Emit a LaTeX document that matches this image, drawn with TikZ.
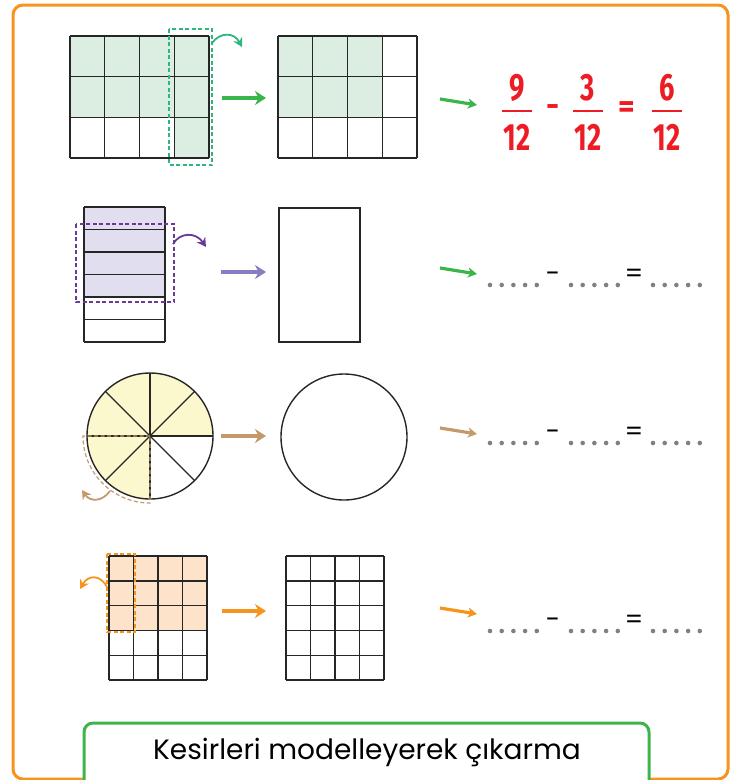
\documentclass[tikz,border=0pt]{standalone}
\usepackage{fontspec}
\setmainfont{Poppins}
\newfontfamily\fracfont{Fira Sans}
\usetikzlibrary{arrows.meta,positioning,calc}
\definecolor{frameorange}{HTML}{F7941D}
\definecolor{titlegreen}{HTML}{3DB54A}
\definecolor{gridgreen}{HTML}{DCEDE1}
\definecolor{arrowgreen}{HTML}{39B54A}
\definecolor{tealgreen}{HTML}{2DB77A}
\definecolor{fracred}{HTML}{ED1C24}
\definecolor{gridpurple}{HTML}{E1DEEF}
\definecolor{darkpurple}{HTML}{6B3A96}
\definecolor{lightpurple}{HTML}{8C7BC2}
\definecolor{gridyellow}{HTML}{FBF8CE}
\definecolor{tanbrown}{HTML}{C49A6C}
\definecolor{gridorange}{HTML}{FDE3CA}
\definecolor{dotgray}{HTML}{808083}
\tikzset{
  cellline/.style={draw=black!85, line width=1.4},
  cutbox/.style={dash pattern=on 4pt off 2.5pt, line width=1.2},
  movearrow/.style={-{Stealth[length=11,width=14]}, line width=3.4},
  bendarrow/.style={-{Stealth[length=9,width=10]}, line width=1.8},
  handarrow/.style={-{Stealth[length=9,width=10,inset=2.5]}, line width=3.2},
  fracnum/.style={font=\fracfont\bfseries\fontsize{38}{38}\selectfont, text=fracred, inner sep=0pt},
  fracbar/.style={draw=fracred, line width=2},
  optext/.style={font=\fontsize{26}{26}\selectfont, inner sep=0pt},
  titletext/.style={font=\fontsize{28}{28}\selectfont, inner sep=0pt},
}
\newcommand{\drawgrid}[6]{%
  \foreach \gi in {0,...,#5}
    \draw[cellline] ({#1+\gi*(#3-#1)/#5},#2) -- ({#1+\gi*(#3-#1)/#5},#4);
  \foreach \gj in {0,...,#6}
    \draw[cellline] (#1,{#2+\gj*(#4-#2)/#6}) -- (#3,{#2+\gj*(#4-#2)/#6});
}
\newcommand{\blankdots}[2]{%
  \foreach \d in {0,...,4}
    \fill[dotgray] ({#1+\d*11.7},#2) circle (2.3);
}
\newcommand{\narrow}[1]{\scalebox{0.72}[1]{#1}}

\begin{document}
\begin{tikzpicture}[x=1pt, y=-1pt]
  \useasboundingbox (0,0) rectangle (736,780);
  \draw[frameorange, line width=3, rounded corners=10] (13,5) rectangle (728,779);

  % row 1: 9/12 - 3/12
  \fill[gridgreen] (70,36) rectangle (209,117.3);
  \fill[gridgreen] (174.25,117.3) rectangle (209,158);
  \drawgrid{70}{36}{209}{158}{4}{3}
  \draw[cutbox, tealgreen] (169,29) rectangle (212,165);
  \coordinate (c1a) at (212,43);
  \coordinate (c1b) at (242,47);
  \draw[bendarrow, tealgreen] (c1a) .. controls (220,32) and (234,32) .. (c1b);
  \coordinate (m1a) at (222,98);
  \coordinate (m1b) at (266,98);
  \draw[movearrow, arrowgreen] (m1a) -- (m1b);
  \fill[gridgreen] (278,36) rectangle (382.25,117.3);
  \drawgrid{278}{36}{417}{158}{4}{3}
  \coordinate (h1a) at (440,99);
  \coordinate (h1b) at (477,105);
  \draw[handarrow, arrowgreen] (h1a) -- (h1b);
  \node[fracnum] (num1) at (517,88) {\narrow{9}};
  \node[fracnum] (den1) at (517,137) {\narrow{12}};
  \draw[fracbar] (502,111) -- (532,111);
  \node[fracnum, font=\fracfont\bfseries\fontsize{32}{32}\selectfont] (minus1) at (553,111) {-};
  \node[fracnum] (num2) at (588,88) {\narrow{3}};
  \node[fracnum] (den2) at (588,137) {\narrow{12}};
  \draw[fracbar] (573,111) -- (603,111);
  \node[fracnum, font=\fracfont\bfseries\fontsize{32}{32}\selectfont] (eq1) at (627,110) {=};
  \node[fracnum] (num3) at (667,88) {\narrow{6}};
  \node[fracnum] (den3) at (667,137) {\narrow{12}};
  \draw[fracbar] (652,111) -- (682,111);

  % row 2: strips
  \fill[gridpurple] (84,207) rectangle (165,297);
  \drawgrid{84}{207}{165}{342}{1}{6}
  \draw[cutbox, darkpurple] (76,224) rectangle (174,302);
  \coordinate (c2a) at (173,244);
  \coordinate (c2b) at (206,247);
  \draw[bendarrow, darkpurple] (c2a) .. controls (180,232) and (196,232) .. (c2b);
  \coordinate (m2a) at (221,272);
  \coordinate (m2b) at (266,272);
  \draw[movearrow, lightpurple] (m2a) -- (m2b);
  \draw[cellline] (279,208) rectangle (360,342);
  \coordinate (h2a) at (440,268);
  \coordinate (h2b) at (477,274);
  \draw[handarrow, arrowgreen] (h2a) -- (h2b);
  \blankdots{490}{285}
  \node[optext] (minus2) at (553,277) {-};
  \blankdots{571}{285}
  \node[optext] (eq2) at (634,276) {=};
  \blankdots{653}{285}

  % row 3: circle
  \coordinate (o1) at (150,436);
  \fill[gridyellow] (o1) -- ++(90:63) arc[start angle=90, end angle=360, radius=63] -- cycle;
  \foreach \a in {0,45,...,315}
    \draw[cellline, line width=1.2] (o1) -- ++(\a:63);
  \draw[cellline] (o1) circle (63);
  \draw[cutbox, tanbrown] (o1) -- (83,436) arc[start angle=180, end angle=90, radius=67] -- cycle;
  \coordinate (c3a) at (110,491);
  \coordinate (c3b) at (82,490);
  \draw[bendarrow, tanbrown] (c3a) .. controls (102,502) and (90,502) .. (c3b);
  \coordinate (m3a) at (221,436);
  \coordinate (m3b) at (266,436);
  \draw[movearrow, tanbrown] (m3a) -- (m3b);
  \draw[cellline] (344,437) circle (63);
  \coordinate (h3a) at (440,428);
  \coordinate (h3b) at (477,434);
  \draw[handarrow, tanbrown] (h3a) -- (h3b);
  \blankdots{490}{443}
  \node[optext] (minus3) at (553,435) {-};
  \blankdots{571}{443}
  \node[optext] (eq3) at (634,434) {=};
  \blankdots{653}{443}

  % row 4: 4x5 grids
  \fill[gridorange] (109,556) rectangle (207,631);
  \drawgrid{109}{556}{207}{680}{4}{5}
  \draw[cutbox, frameorange] (107,554) rectangle (135,632);
  \coordinate (c4a) at (107,587);
  \coordinate (c4b) at (80,589);
  \draw[bendarrow, frameorange] (c4a) .. controls (100,574) and (88,575) .. (c4b);
  \coordinate (m4a) at (222,611);
  \coordinate (m4b) at (266,611);
  \draw[movearrow, frameorange] (m4a) -- (m4b);
  \drawgrid{286}{556}{384}{680}{4}{5}
  \coordinate (h4a) at (440,608);
  \coordinate (h4b) at (477,614);
  \draw[handarrow, frameorange] (h4a) -- (h4b);
  \blankdots{490}{631}
  \node[optext] (minus4) at (553,623) {-};
  \blankdots{571}{631}
  \node[optext] (eq4) at (634,622) {=};
  \blankdots{653}{631}

  % title tab
  \draw[titlegreen, line width=3, fill=white, rounded corners=9] (84,795) -- (84,723) -- (649,723) -- (649,795);
  \node[titletext] (title) at (367,752) {Kesirleri modelleyerek çıkarma};
\end{tikzpicture}
\end{document}
